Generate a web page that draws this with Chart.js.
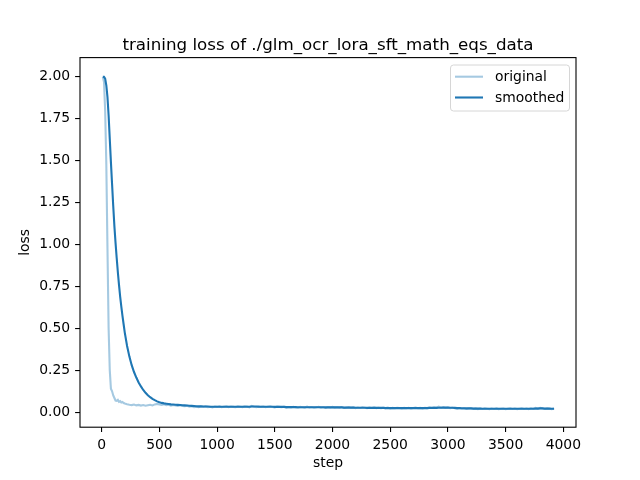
<!DOCTYPE html>
<html>
<head>
<meta charset="utf-8">
<script src="https://cdn.jsdelivr.net/npm/chart.js@4.4.1/dist/chart.umd.min.js"></script>
<style>
html,body{margin:0;padding:0;background:#ffffff;}
#wrap{width:640px;height:480px;position:relative;}
</style>
</head>
<body>
<div id="wrap"><canvas id="c" width="640" height="480"></canvas></div>
<script>
// ---------- data ----------
const chartTitle = 'training loss of ./glm_ocr_lora_sft_math_eqs_data';
const xAxisLabel = 'step';
const yAxisLabel = 'loss';
const seriesNames = ['original', 'smoothed'];

const xTickValues = [0, 500, 1000, 1500, 2000, 2500, 3000, 3500, 4000];
const yTickValues = [0.00, 0.25, 0.50, 0.75, 1.00, 1.25, 1.50, 1.75, 2.00];

const steps = [
  10, 20, 30, 40, 50, 60, 70, 80, 90, 100,
  110, 120, 130, 140, 150, 160, 170, 180, 190, 200,
  220, 240, 260, 280, 300, 320, 340, 360, 380, 400,
  420, 440, 460, 480, 500, 520, 540, 560, 580, 600,
  620, 640, 660, 680, 700, 720, 740, 760, 780, 800,
  820, 840, 860, 880, 900, 920, 940, 960, 980, 1000,
  1020, 1040, 1060, 1080, 1100, 1120, 1140, 1160, 1180, 1200,
  1220, 1240, 1260, 1280, 1300, 1320, 1340, 1360, 1380, 1400,
  1420, 1440, 1460, 1480, 1500, 1520, 1540, 1560, 1580, 1600,
  1620, 1640, 1660, 1680, 1700, 1720, 1740, 1760, 1780, 1800,
  1820, 1840, 1860, 1880, 1900, 1920, 1940, 1960, 1980, 2000,
  2020, 2040, 2060, 2080, 2100, 2120, 2140, 2160, 2180, 2200,
  2220, 2240, 2260, 2280, 2300, 2320, 2340, 2360, 2380, 2400,
  2420, 2440, 2460, 2480, 2500, 2520, 2540, 2560, 2580, 2600,
  2620, 2640, 2660, 2680, 2700, 2720, 2740, 2760, 2780, 2800,
  2820, 2840, 2860, 2880, 2900, 2920, 2940, 2960, 2980, 3000,
  3020, 3040, 3060, 3080, 3100, 3120, 3140, 3160, 3180, 3200,
  3220, 3240, 3260, 3280, 3300, 3320, 3340, 3360, 3380, 3400,
  3420, 3440, 3460, 3480, 3500, 3520, 3540, 3560, 3580, 3600,
  3620, 3640, 3660, 3680, 3700, 3720, 3740, 3760, 3780, 3800,
  3820, 3840, 3860, 3880, 3900, 3920
];

const originalLoss = [
  2.00, 1.97, 1.80, 1.48, 0.98, 0.50, 0.25, 0.14, 0.125, 0.10,
  0.085, 0.070, 0.068, 0.074, 0.062, 0.066, 0.058, 0.061, 0.055, 0.052,
  0.048, 0.045, 0.043, 0.046, 0.041, 0.044, 0.040, 0.043, 0.039, 0.042,
  0.045, 0.041, 0.047, 0.050, 0.046, 0.044, 0.048, 0.042, 0.045, 0.040,
  0.043, 0.041, 0.038, 0.042, 0.037, 0.036, 0.039, 0.034, 0.036, 0.031,
  0.033, 0.030, 0.034, 0.032, 0.035, 0.031, 0.033, 0.029, 0.034, 0.032,
  0.035, 0.030, 0.033, 0.036, 0.031, 0.034, 0.032, 0.030, 0.035, 0.033,
  0.031, 0.036, 0.034, 0.030, 0.038, 0.033, 0.031, 0.035, 0.032, 0.034,
  0.030, 0.033, 0.036, 0.031, 0.029, 0.034, 0.032, 0.030, 0.033, 0.028,
  0.031, 0.029, 0.033, 0.030, 0.027, 0.032, 0.030, 0.028, 0.034, 0.029,
  0.031, 0.027, 0.030, 0.033, 0.028, 0.030, 0.026, 0.031, 0.029, 0.032,
  0.028, 0.030, 0.027, 0.031, 0.026, 0.029, 0.031, 0.027, 0.029, 0.025,
  0.028, 0.026, 0.030, 0.027, 0.024, 0.028, 0.026, 0.029, 0.025, 0.027,
  0.024, 0.027, 0.025, 0.028, 0.023, 0.026, 0.024, 0.027, 0.025, 0.023,
  0.026, 0.024, 0.027, 0.023, 0.025, 0.028, 0.024, 0.026, 0.023, 0.027,
  0.025, 0.028, 0.026, 0.029, 0.027, 0.033, 0.028, 0.030, 0.026, 0.028,
  0.025, 0.027, 0.024, 0.022, 0.025, 0.021, 0.023, 0.020, 0.022, 0.024,
  0.021, 0.023, 0.019, 0.022, 0.020, 0.023, 0.021, 0.019, 0.022, 0.020,
  0.023, 0.019, 0.021, 0.022, 0.018, 0.021, 0.023, 0.020, 0.022, 0.019,
  0.021, 0.023, 0.020, 0.022, 0.019, 0.024, 0.021, 0.027, 0.023, 0.026,
  0.022, 0.020, 0.023, 0.021, 0.019, 0.022
];

const smoothedLoss = [
  2.00, 2.00, 1.99, 1.95, 1.88, 1.77, 1.63, 1.49, 1.36, 1.23,
  1.11, 1.01, 0.92, 0.835, 0.76, 0.69, 0.63, 0.575, 0.525, 0.475,
  0.395, 0.332, 0.281, 0.240, 0.207, 0.178, 0.154, 0.133, 0.116, 0.102,
  0.090, 0.080, 0.072, 0.065, 0.060, 0.056, 0.053, 0.051, 0.049, 0.047,
  0.046, 0.045, 0.044, 0.043, 0.042, 0.041, 0.040, 0.039, 0.038, 0.037,
  0.036, 0.035, 0.035, 0.034, 0.034, 0.034, 0.033, 0.033, 0.033, 0.033,
  0.033, 0.033, 0.033, 0.033, 0.033, 0.033, 0.033, 0.033, 0.033, 0.033,
  0.033, 0.033, 0.033, 0.033, 0.034, 0.034, 0.034, 0.033, 0.033, 0.033,
  0.033, 0.033, 0.033, 0.033, 0.032, 0.032, 0.032, 0.032, 0.032, 0.031,
  0.031, 0.031, 0.031, 0.031, 0.030, 0.030, 0.030, 0.030, 0.030, 0.030,
  0.030, 0.030, 0.030, 0.030, 0.030, 0.030, 0.029, 0.029, 0.029, 0.029,
  0.029, 0.029, 0.029, 0.029, 0.028, 0.028, 0.028, 0.028, 0.028, 0.027,
  0.027, 0.027, 0.027, 0.027, 0.026, 0.026, 0.026, 0.026, 0.026, 0.026,
  0.026, 0.026, 0.025, 0.025, 0.025, 0.025, 0.025, 0.025, 0.025, 0.025,
  0.025, 0.025, 0.025, 0.025, 0.025, 0.025, 0.025, 0.025, 0.025, 0.025,
  0.025, 0.026, 0.026, 0.026, 0.026, 0.027, 0.027, 0.028, 0.028, 0.028,
  0.027, 0.027, 0.026, 0.025, 0.025, 0.024, 0.024, 0.023, 0.023, 0.023,
  0.022, 0.022, 0.022, 0.022, 0.021, 0.021, 0.021, 0.021, 0.021, 0.021,
  0.021, 0.021, 0.021, 0.021, 0.021, 0.021, 0.021, 0.021, 0.021, 0.021,
  0.021, 0.021, 0.021, 0.021, 0.021, 0.021, 0.021, 0.022, 0.022, 0.023,
  0.023, 0.022, 0.022, 0.022, 0.021, 0.021
];

// ---------- styling ----------
const FONT = "'DejaVu Sans', 'Liberation Sans', sans-serif";
const BLUE = '#1f77b4';
const BLUE_LIGHT = 'rgba(31,119,180,0.4)';

const toPoints = (xs, ys) => xs.map((x, i) => ({ x: x, y: ys[i] }));

const decorPlugin = {
  id: 'decor',
  afterDraw(chart) {
    const ctx = chart.ctx;
    const a = chart.chartArea;
    ctx.save();
    // axes frame (all four spines)
    ctx.strokeStyle = '#000000';
    ctx.lineWidth = 1.1;
    ctx.strokeRect(a.left, a.top, a.right - a.left, a.bottom - a.top);

    ctx.fillStyle = '#000000';
    // title
    ctx.font = '16.7px ' + FONT;
    ctx.textAlign = 'center';
    ctx.textBaseline = 'alphabetic';
    ctx.fillText(chartTitle, (a.left + a.right) / 2, 50);

    // x label
    ctx.font = '13.9px ' + FONT;
    ctx.fillText(xAxisLabel, (a.left + a.right) / 2, 466.5);

    // y label
    ctx.save();
    ctx.translate(29, (a.top + a.bottom) / 2);
    ctx.rotate(-Math.PI / 2);
    ctx.textAlign = 'center';
    ctx.textBaseline = 'alphabetic';
    ctx.fillText(yAxisLabel, 0, 0);
    ctx.restore();

    // legend
    const lx = 450.5, ly = 65, lw = 119, lh = 46, r = 3;
    ctx.beginPath();
    ctx.moveTo(lx + r, ly);
    ctx.lineTo(lx + lw - r, ly);
    ctx.quadraticCurveTo(lx + lw, ly, lx + lw, ly + r);
    ctx.lineTo(lx + lw, ly + lh - r);
    ctx.quadraticCurveTo(lx + lw, ly + lh, lx + lw - r, ly + lh);
    ctx.lineTo(lx + r, ly + lh);
    ctx.quadraticCurveTo(lx, ly + lh, lx, ly + lh - r);
    ctx.lineTo(lx, ly + r);
    ctx.quadraticCurveTo(lx, ly, lx + r, ly);
    ctx.closePath();
    ctx.fillStyle = 'rgba(255,255,255,0.8)';
    ctx.fill();
    ctx.strokeStyle = '#d6d6d6';
    ctx.lineWidth = 1;
    ctx.stroke();

    const rows = [
      { y: 76.7, color: BLUE_LIGHT, label: chart.data.datasets[0].label },
      { y: 97.5, color: BLUE, label: chart.data.datasets[1].label }
    ];
    rows.forEach(row => {
      ctx.beginPath();
      ctx.strokeStyle = row.color;
      ctx.lineWidth = 2.1;
      ctx.moveTo(455, row.y);
      ctx.lineTo(483, row.y);
      ctx.stroke();
      ctx.fillStyle = '#000000';
      ctx.font = '13.9px ' + FONT;
      ctx.textAlign = 'left';
      ctx.textBaseline = 'middle';
      ctx.fillText(row.label, 495, row.y + 0.5);
    });
    ctx.restore();
  }
};

new Chart(document.getElementById('c'), {
  type: 'line',
  data: {
    datasets: [
      {
        label: seriesNames[0],
        data: toPoints(steps, originalLoss),
        borderColor: BLUE_LIGHT,
        backgroundColor: BLUE_LIGHT,
        borderWidth: 2.1,
        pointRadius: 0,
        tension: 0,
        fill: false,
        order: 1
      },
      {
        label: seriesNames[1],
        data: toPoints(steps, smoothedLoss),
        borderColor: BLUE,
        backgroundColor: BLUE,
        borderWidth: 2.1,
        pointRadius: 0,
        tension: 0,
        fill: false,
        order: 0
      }
    ]
  },
  options: {
    responsive: false,
    animation: false,
    devicePixelRatio: 1,
    parsing: true,
    layout: { padding: { top: 57.6, right: 64, left: 0, bottom: 0 } },
    plugins: {
      legend: { display: false },
      title: { display: false },
      tooltip: { enabled: false }
    },
    scales: {
      x: {
        type: 'linear',
        min: -188,
        max: 4110,
        afterBuildTicks: s => { s.ticks = xTickValues.map(v => ({ value: v })); },
        afterFit: s => { s.height = 52.8; },
        grid: { drawOnChartArea: false, drawTicks: true, tickLength: 4.9, color: '#000000', lineWidth: 1.1 },
        border: { display: false },
        ticks: {
          color: '#000000',
          font: { family: FONT, size: 13.9 },
          padding: 4.9,
          maxRotation: 0,
          autoSkip: false,
          callback: v => String(v)
        }
      },
      y: {
        type: 'linear',
        min: -0.089,
        max: 2.115,
        afterBuildTicks: s => { s.ticks = yTickValues.map(v => ({ value: v })); },
        afterFit: s => { s.width = 80; },
        grid: { drawOnChartArea: false, drawTicks: true, tickLength: 4.9, color: '#000000', lineWidth: 1.1 },
        border: { display: false },
        ticks: {
          color: '#000000',
          font: { family: FONT, size: 13.9 },
          padding: 4.9,
          autoSkip: false,
          callback: v => Number(v).toFixed(2)
        }
      }
    }
  },
  plugins: [decorPlugin]
});
</script>
</body>
</html>
